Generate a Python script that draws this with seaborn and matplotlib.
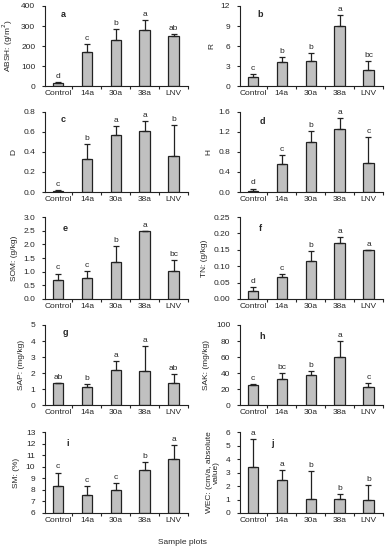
import numpy as np
import pandas as pd
import seaborn as sns
import matplotlib.pyplot as plt
from matplotlib.ticker import FormatStrFormatter, FixedLocator

sns.set_style("ticks")
plt.rcParams['font.family'] = ['Liberation Sans', 'DejaVu Sans']

plots = ['Control', '14a', '30a', '38a', 'LNV']

# nilai rata-rata, error (ke atas) dan huruf signifikansi tiap panel
absh = [15, 170, 230, 280, 250]
absh_err = [5, 40, 55, 52, 8]
absh_sig = ['d', 'c', 'b', 'a', 'ab']

r_val = [1.3, 3.6, 3.8, 9.0, 2.4]
r_err = [0.5, 0.7, 1.2, 1.6, 1.4]
r_sig = ['c', 'b', 'b', 'a', 'bc']

d_val = [0.01, 0.33, 0.57, 0.61, 0.36]
d_err = [0.006, 0.15, 0.09, 0.10, 0.31]
d_sig = ['c', 'b', 'a', 'a', 'b']

h_val = [0.03, 0.56, 0.99, 1.25, 0.57]
h_err = [0.04, 0.18, 0.23, 0.22, 0.53]
h_sig = ['d', 'c', 'b', 'a', 'c']

som = [0.70, 0.78, 1.35, 2.48, 1.04]
som_err = [0.23, 0.24, 0.60, 0.02, 0.38]
som_sig = ['c', 'c', 'b', 'a', 'bc']

tn = [0.025, 0.067, 0.115, 0.170, 0.150]
tn_err = [0.011, 0.010, 0.030, 0.020, 0.0]
tn_sig = ['d', 'c', 'b', 'a', 'a']

sap = [1.35, 1.15, 2.20, 2.15, 1.38]
sap_err = [0.03, 0.15, 0.57, 1.55, 0.57]
sap_sig = ['ab', 'b', 'a', 'a', 'ab']

sak = [25, 33, 37, 60, 22]
sak_err = [1, 7, 6, 20, 5]
sak_sig = ['c', 'bc', 'b', 'a', 'c']

sm = [8.3, 7.6, 8.0, 9.75, 10.65]
sm_err = [1.2, 0.7, 0.6, 0.65, 1.25]
sm_sig = ['c', 'c', 'c', 'b', 'a']

wec = [3.4, 2.45, 1.05, 1.05, 1.0]
wec_err = [2.1, 0.75, 2.05, 0.35, 1.1]
wec_sig = ['a', 'a', 'b', 'b', 'b']

panels = [
    ('a', 'ABSH: (g/m$^2$)', absh, absh_err, absh_sig, (0, 400), 100, '%d', (0.126, 0.89)),
    ('b', 'R', r_val, r_err, r_sig, (0, 12), 3, '%d', (0.14, 0.89)),
    ('c', 'D', d_val, d_err, d_sig, (0, 0.8), 0.2, '%.1f', (0.126, 0.90)),
    ('d', 'H', h_val, h_err, h_sig, (0, 1.6), 0.4, '%.1f', (0.154, 0.875)),
    ('e', 'SOM: (g/kg)', som, som_err, som_sig, (0, 3.0), 0.5, '%.1f', (0.14, 0.866)),
    ('f', 'TN: (g/kg)', tn, tn_err, tn_sig, (0, 0.25), 0.05, '%.2f', (0.14, 0.866)),
    ('g', 'SAP: (mg/kg)', sap, sap_err, sap_sig, (0, 5), 1, '%d', (0.14, 0.90)),
    ('h', 'SAK: (mg/kg)', sak, sak_err, sak_sig, (0, 100), 20, '%d', (0.154, 0.85)),
    ('i', 'SM: (%)', sm, sm_err, sm_sig, (6, 13), 1, '%d', (0.16, 0.864)),
    ('j', 'WEC: (cm/a, absolute\nvalue)', wec, wec_err, wec_sig, (0, 6), 1, '%d', (0.23, 0.864)),
]

fig = plt.figure(figsize=(3.87, 5.5), dpi=100)

lefts = [0.1163, 0.620]
rows = [(0.8436, 0.1455), (0.6509, 0.1455), (0.4564, 0.149), (0.2636, 0.1455), (0.0673, 0.147)]

for k, (lab, ylab, vals, errs, sig, ylim, step, fmt, lpos) in enumerate(panels):
    bottom, height = rows[k // 2]
    ax = fig.add_axes([lefts[k % 2], bottom, 0.3695, height])
    df = pd.DataFrame({'plot': plots, 'val': vals})
    # bar berangkat dari batas bawah sumbu (panel i mulai dari 6)
    df['h'] = df['val'] - ylim[0]
    sns.barplot(data=df, x='plot', y='h', bottom=ylim[0], color='#c0c0c0',
                edgecolor='#222222', linewidth=0.9, width=0.36, saturation=1,
                errorbar=None, ax=ax)
    xs = np.arange(len(plots))
    ax.errorbar(xs, vals, yerr=[np.zeros(len(vals)), errs], fmt='none',
                ecolor='#222222', elinewidth=0.9, capsize=2.2, capthick=0.9)
    for x, v, e, s in zip(xs, vals, errs, sig):
        ax.annotate(s, (x, v + e), xytext=(0, 1.5), textcoords='offset points',
                    ha='center', va='bottom', fontsize=6)
    ax.text(lpos[0], lpos[1], lab, transform=ax.transAxes, fontsize=6.5,
            fontweight='bold', ha='center', va='center')
    ax.set_ylim(*ylim)
    ax.set_xlim(-0.45, 4.5)
    ax.set_yticks(np.arange(ylim[0], ylim[1] + step / 2, step))
    ax.yaxis.set_major_formatter(FormatStrFormatter(fmt))
    ax.set_xlabel('')
    ax.set_ylabel(ylab, fontsize=6, labelpad=4, linespacing=1.0)
    ax.tick_params(axis='y', labelsize=6, length=2.5, width=0.8, pad=4.5)
    ax.tick_params(axis='x', which='major', labelsize=6, length=0, pad=3)
    ax.xaxis.set_minor_locator(FixedLocator([0.5, 1.5, 2.5, 3.5, 4.5]))
    ax.tick_params(axis='x', which='minor', length=2.5, width=0.8)
    for sp in ['top', 'right']:
        ax.spines[sp].set_visible(False)
    for sp in ['left', 'bottom']:
        ax.spines[sp].set_linewidth(0.8)
        ax.spines[sp].set_color('#222222')

fig.text(0.472, 0.013, 'Sample plots', fontsize=6, ha='center', va='center')

fig.savefig('out.png', dpi=100)
